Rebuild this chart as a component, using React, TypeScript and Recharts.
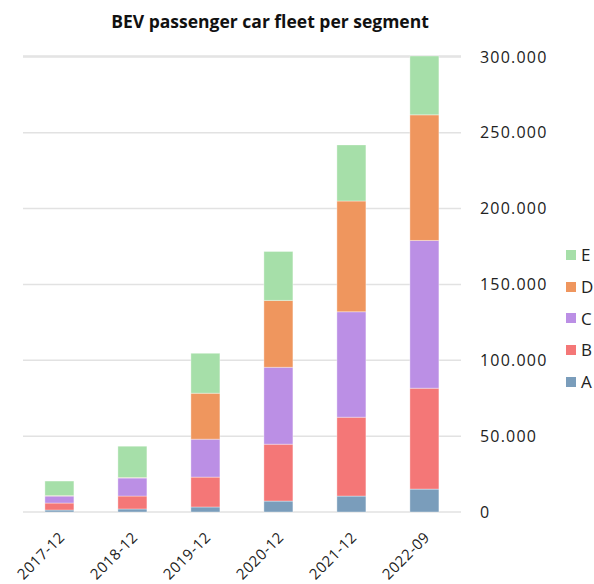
import { Bar, BarChart, CartesianGrid, XAxis, YAxis } from "recharts";

const periods = ["2017-12", "2018-12", "2019-12", "2020-12", "2021-12", "2022-09"];
const segA = [1300, 2000, 3300, 7200, 10500, 15100];
const segB = [4600, 8500, 19700, 37500, 52000, 66500];
const segC = [4600, 11900, 25000, 50700, 69500, 97400];
const segD = [300, 300, 30300, 44100, 73000, 82800];
const segE = [9600, 20700, 26300, 32300, 37000, 38800];
const yTicks = [0, 50000, 100000, 150000, 200000, 250000, 300000];

const segments = [
  { key: "A", color: "#7a9dbb" },
  { key: "B", color: "#f47777" },
  { key: "C", color: "#bb8fe5" },
  { key: "D", color: "#ef965e" },
  { key: "E", color: "#a6dfa9" },
];

const data = periods.map((p, i) => ({
  period: p,
  A: segA[i],
  B: segB[i],
  C: segC[i],
  D: segD[i],
  E: segE[i],
}));

const font = "'Open Sans', sans-serif";
const fmt = (v: number) => String(v).replace(/\B(?=(\d{3})+(?!\d))/g, ".");

function XTick({ x, y, payload }: any) {
  const tx = x + 2;
  const ty = y + 14;
  return (
    <text
      x={tx}
      y={ty}
      transform={`rotate(-45 ${tx} ${ty})`}
      textAnchor="end"
      dominantBaseline="central"
      fontSize={15}
      letterSpacing={0.5}
      fontFamily={font}
      fill="#222"
    >
      {payload.value}
    </text>
  );
}

function LegendList() {
  return (
    <div style={{ position: "absolute", left: 566, top: 239, fontFamily: font }}>
      {segments
        .slice()
        .reverse()
        .map((s) => (
          <div key={s.key} style={{ display: "flex", alignItems: "center", height: 31.7 }}>
            <span style={{ width: 10, height: 10, background: s.color, marginRight: 5 }} />
            <span style={{ fontSize: 17, color: "#222" }}>{s.key}</span>
          </div>
        ))}
    </div>
  );
}

export default function App() {
  return (
    <div style={{ position: "absolute", left: 0, top: 0, width: 594, height: 584, background: "#fff" }}>
      <div
        style={{
          position: "absolute",
          top: 9,
          left: 0,
          width: 540,
          textAlign: "center",
          fontFamily: font,
          fontWeight: 700,
          fontSize: 17.5,
          color: "#111",
        }}
      >
        BEV passenger car fleet per segment
      </div>
      <BarChart
        width={594}
        height={584}
        data={data}
        margin={{ top: 56, right: 53, bottom: 12, left: 23 }}
        barCategoryGap="30%"
      >
        <CartesianGrid vertical={false} stroke="#e2e2e2" strokeWidth={1.5} />
        <XAxis
          dataKey="period"
          tick={<XTick />}
          tickLine={false}
          axisLine={false}
          height={60}
          interval={0}
        />
        <YAxis
          orientation="right"
          width={80}
          domain={[0, 300000]}
          ticks={yTicks}
          tickFormatter={fmt}
          tickLine={false}
          axisLine={false}
          tickSize={0}
          tickMargin={19}
          tick={{ fontSize: 16, fontFamily: font, fill: "#222", letterSpacing: 1.2 }}
        />
        {segments.map((s) => (
          <Bar
            key={s.key}
            dataKey={s.key}
            stackId="fleet"
            fill={s.color}
            stroke="#ffffff"
            strokeOpacity={0.35}
            strokeWidth={1}
            isAnimationActive={false}
          />
        ))}
      </BarChart>
      <LegendList />
    </div>
  );
}
